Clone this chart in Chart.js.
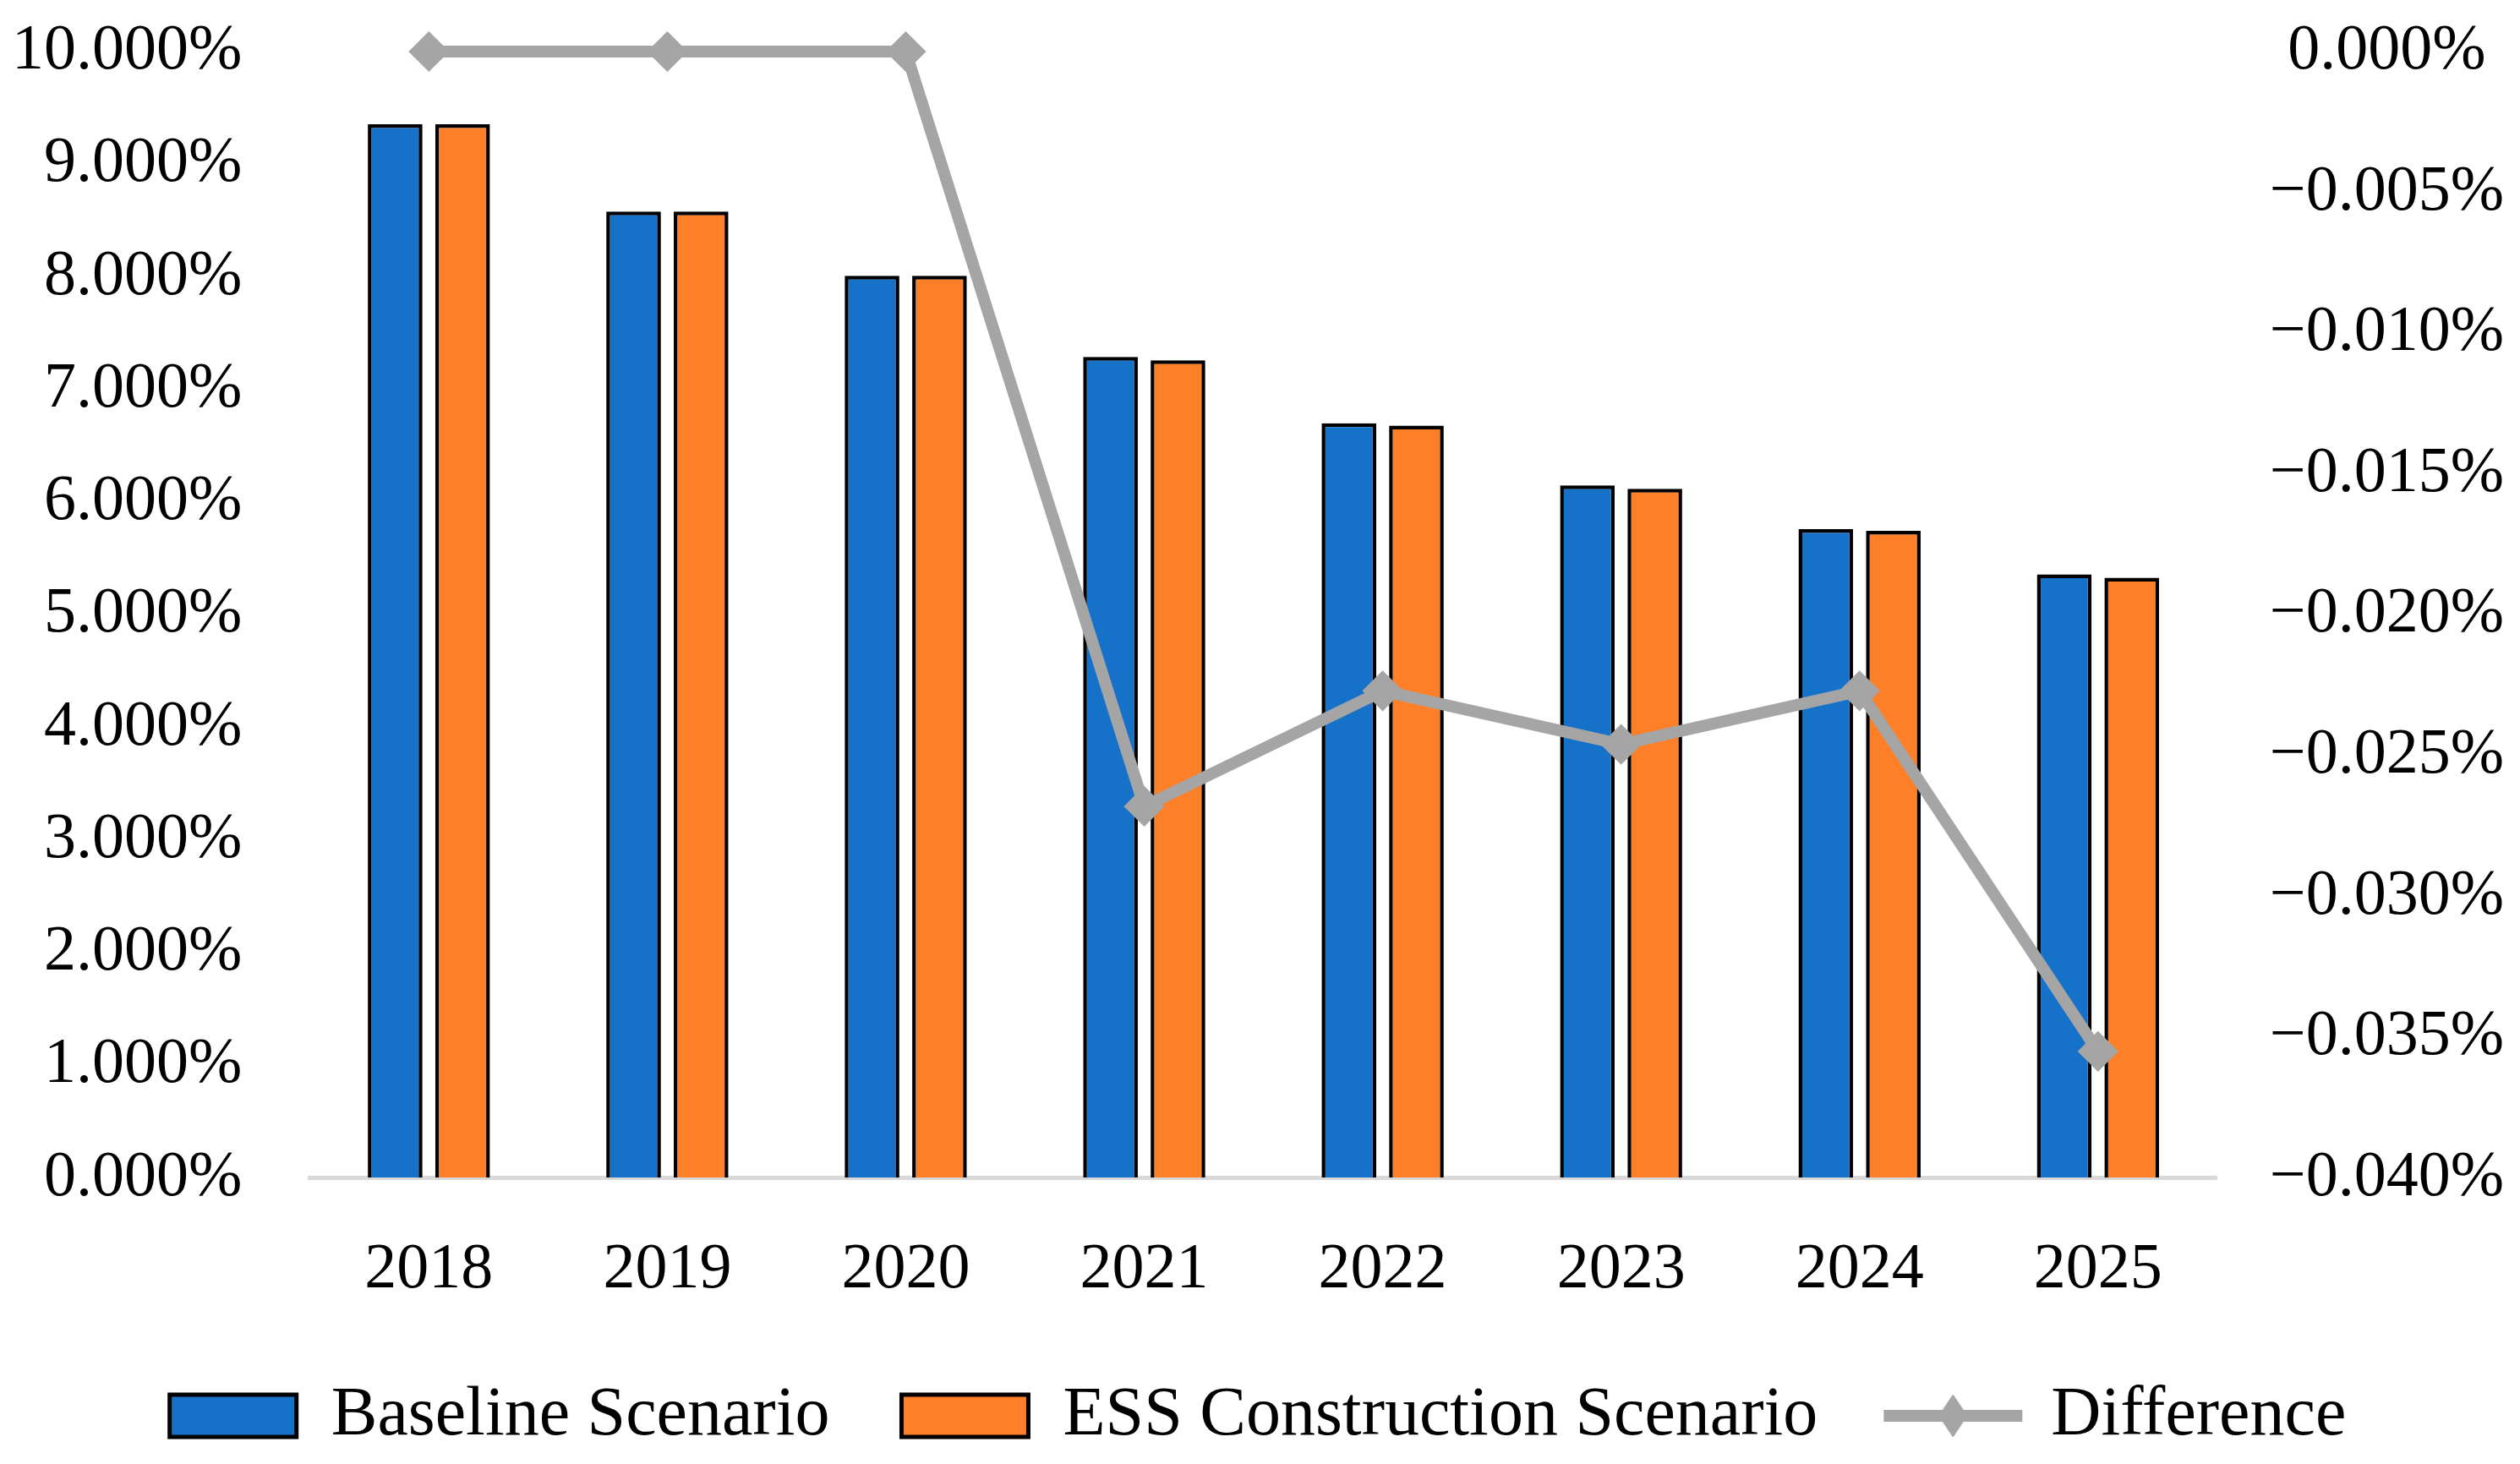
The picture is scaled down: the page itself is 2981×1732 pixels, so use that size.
<!DOCTYPE html>
<html>
<head>
<meta charset="utf-8">
<script src="https://cdn.jsdelivr.net/npm/chart.js@4/dist/chart.umd.min.js"></script>
<style>
  html, body { margin: 0; padding: 0; background: #fff; overflow: hidden; }
  #wrap { width: 2981px; height: 1732px; }
</style>
</head>
<body>
<div id="wrap"><canvas id="chart" width="2981" height="1732"></canvas></div>
<script>
// values, in percent
const years = ['2018', '2019', '2020', '2021', '2022', '2023', '2024', '2025'];
const baseline = [9.355, 8.58, 8.01, 7.29, 6.70, 6.15, 5.76, 5.36];
const essScenario = [9.355, 8.58, 8.01, 7.26, 6.68, 6.12, 5.745, 5.33];
const difference = [0, 0, 0, -0.0268, -0.0227, -0.0246, -0.0227, -0.0355];

const FONT = '"Liberation Serif", "Times New Roman", serif';
const lineGray = '#a5a5a5';
const tickFont = { family: FONT, size: 76 };

// little line+diamond picture for the legend entry of the line
function lineMarker() {
    const c = document.createElement('canvas');
    c.width = 176; c.height = 54;
    const g = c.getContext('2d');
    g.strokeStyle = lineGray;
    g.lineWidth = 14;
    g.beginPath(); g.moveTo(6, 27); g.lineTo(170, 27); g.stroke();
    g.fillStyle = lineGray;
    g.lineJoin = 'round';
    g.beginPath(); g.moveTo(88, 3); g.lineTo(104, 27); g.lineTo(88, 51); g.lineTo(72, 27); g.closePath();
    g.fill(); g.lineWidth = 2; g.stroke();
    return c;
}
const diffMarker = lineMarker();

function pct(v) {
    if (Math.abs(v) < 1e-9) return '0.000%';
    return (v < 0 ? '\u2212' : '') + Math.abs(v).toFixed(3) + '%';
}

// invisible tick marks give the gap between labels and plot
// (ticks.padding would also push the plot area down)
function hiddenTicks(len) {
    return { display: true, drawOnChartArea: false, drawTicks: true, tickLength: len, color: 'rgba(0,0,0,0)' };
}

const ctx = document.getElementById('chart').getContext('2d');
new Chart(ctx, {
    type: 'bar',
    data: {
        labels: years,
        datasets: [{
            label: 'Baseline Scenario',
            data: baseline,
            backgroundColor: '#1671c9',
            borderColor: '#000',
            borderWidth: 4.5,
            yAxisID: 'y',
            order: 1,
            categoryPercentage: 0.566,
            barPercentage: 0.81
        }, {
            label: 'ESS Construction Scenario',
            data: essScenario,
            backgroundColor: '#fd7f28',
            borderColor: '#000',
            borderWidth: 4.5,
            yAxisID: 'y',
            order: 1,
            categoryPercentage: 0.566,
            barPercentage: 0.81
        }, {
            type: 'line',
            label: 'Difference',
            data: difference,
            borderColor: lineGray,
            backgroundColor: lineGray,
            borderWidth: 14,
            pointStyle: 'rectRot',
            pointRadius: 22,
            pointBackgroundColor: lineGray,
            pointBorderColor: lineGray,
            pointBorderWidth: 3,
            tension: 0,
            clip: false,
            yAxisID: 'y2',
            order: 0
        }]
    },
    options: {
        responsive: false,
        devicePixelRatio: 1,
        animation: false,
        layout: { padding: { left: 14, right: 19, top: 61, bottom: 6 } },
        plugins: {
            tooltip: { enabled: false },
            legend: {
                position: 'bottom',
                labels: {
                    font: { family: FONT, size: 82 },
                    color: '#000',
                    usePointStyle: true,
                    pointStyleWidth: 150,
                    boxHeight: 50,
                    padding: 85,
                    sort: (a, b) => a.datasetIndex - b.datasetIndex,
                    generateLabels: (chart) => {
                        const items = Chart.defaults.plugins.legend.labels.generateLabels(chart);
                        items.forEach(it => {
                            if (it.datasetIndex === 2) {
                                it.pointStyle = diffMarker;
                            } else {
                                it.pointStyle = 'rect';
                                it.lineWidth = 5;
                                it.strokeStyle = '#000';
                            }
                        });
                        return items;
                    }
                }
            }
        },
        scales: {
            x: {
                grid: hiddenTicks(64),
                border: { display: true, color: '#d9d9d9', width: 5 },
                ticks: { font: tickFont, color: '#000', padding: 0 }
            },
            y: {
                position: 'left',
                min: 0,
                max: 10,
                grid: hiddenTicks(80),
                border: { display: false },
                ticks: {
                    stepSize: 1,
                    padding: 0,
                    font: tickFont,
                    color: '#000',
                    callback: v => v.toFixed(3) + '%'
                }
            },
            y2: {
                position: 'right',
                min: -0.04,
                max: 0,
                grid: hiddenTicks(62),
                border: { display: false },
                ticks: {
                    stepSize: 0.005,
                    padding: 0,
                    crossAlign: 'center',
                    font: tickFont,
                    color: '#000',
                    callback: v => pct(v)
                }
            }
        }
    }
});
</script>
</body>
</html>
